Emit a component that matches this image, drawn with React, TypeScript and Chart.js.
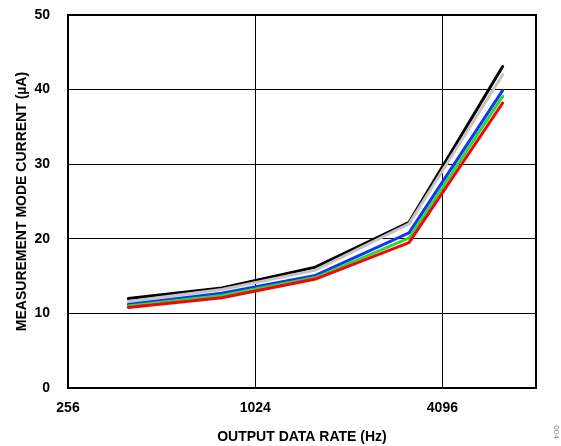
import React, { useEffect, useRef } from "react";
import { Chart, registerables } from "chart.js";

Chart.register(...registerables);

const rates = [400, 800, 1600, 3200, 6400];
const xTicks = [256, 1024, 4096];
const blackSeries = [12.0, 13.4, 16.2, 22.2, 43.1];
const graySeries = [11.6, 13.2, 15.8, 22.0, 42.0];
const blueSeries = [11.2, 12.7, 15.1, 20.8, 39.9];
const greenSeries = [11.0, 12.4, 14.8, 20.1, 39.1];
const redSeries = [10.8, 12.1, 14.6, 19.5, 38.2];

const FONT = "'Liberation Sans', Arial, sans-serif";

const borderBox = {
  id: "borderBox",
  afterDraw(chart: any) {
    const { ctx, chartArea } = chart;
    ctx.save();
    ctx.strokeStyle = "#000";
    ctx.lineWidth = 2;
    ctx.strokeRect(chartArea.left, chartArea.top, chartArea.right - chartArea.left, chartArea.bottom - chartArea.top);
    ctx.translate(556, 432);
    ctx.rotate(Math.PI / 2);
    ctx.fillStyle = "#888";
    ctx.font = `8px ${FONT}`;
    ctx.textAlign = "center";
    ctx.textBaseline = "middle";
    ctx.fillText("004", 0, 0);
    ctx.restore();
  },
};

export default function App() {
  const ref = useRef<HTMLCanvasElement>(null);
  useEffect(() => {
    if (!ref.current) return;
    const mk = (data: number[], color: string) => ({
      data: rates.map((x, i) => ({ x, y: data[i] })),
      borderColor: color,
      backgroundColor: color,
      borderWidth: 3,
      pointRadius: 0,
      tension: 0,
      borderCapStyle: "round" as const,
      borderJoinStyle: "miter" as const,
    });
    const chart = new Chart(ref.current, {
      type: "line",
      data: {
        datasets: [
          mk(redSeries, "#ff0000"),
          mk(greenSeries, "#22dd33"),
          mk(blueSeries, "#1133ff"),
          mk(graySeries, "#c4c4c4"),
          mk(blackSeries, "#000000"),
        ],
      },
      options: {
        animation: false,
        responsive: false,
        layout: { padding: { top: 15, right: 25, left: 0, bottom: 0 } },
        plugins: { legend: { display: false }, tooltip: { enabled: false } },
        scales: {
          x: {
            type: "logarithmic",
            min: 256,
            max: 8192,
            afterBuildTicks: (scale: any) => {
              scale.ticks = xTicks.map((v) => ({ value: v }));
            },
            afterFit: (scale: any) => {
              scale.height = 58;
              scale.paddingLeft = 0;
              scale.paddingRight = 0;
            },
            ticks: {
              color: "#000",
              font: { family: FONT, size: 14, weight: "bold" },
              padding: 12,
              maxRotation: 0,
              autoSkip: false,
              callback: (v: any) => String(v),
            },
            grid: { color: "#000", lineWidth: 1, drawTicks: false },
            border: { color: "#000", width: 2 },
            title: {
              display: true,
              text: "OUTPUT DATA RATE (Hz)",
              color: "#000",
              font: { family: FONT, size: 14, weight: "bold" },
              padding: { top: 0, bottom: 0 },
            },
          },
          y: {
            min: 0,
            max: 50,
            afterFit: (scale: any) => {
              scale.width = 68;
              scale.paddingTop = 0;
              scale.paddingBottom = 0;
            },
            ticks: {
              stepSize: 10,
              color: "#000",
              font: { family: FONT, size: 14, weight: "bold" },
              padding: 18,
            },
            grid: { color: "#000", lineWidth: 1, drawTicks: false },
            border: { color: "#000", width: 2 },
            title: {
              display: true,
              text: "MEASUREMENT MODE CURRENT (µA)",
              color: "#000",
              font: { family: FONT, size: 14, weight: "bold" },
              padding: { top: 14, bottom: 0 },
            },
          },
        },
      },
      plugins: [borderBox],
    });
    return () => chart.destroy();
  }, []);
  return (
    <div style={{ position: "absolute", left: 0, top: 0, width: 561, height: 446, background: "#fff" }}>
      <canvas ref={ref} width={561} height={446} />
    </div>
  );
}
